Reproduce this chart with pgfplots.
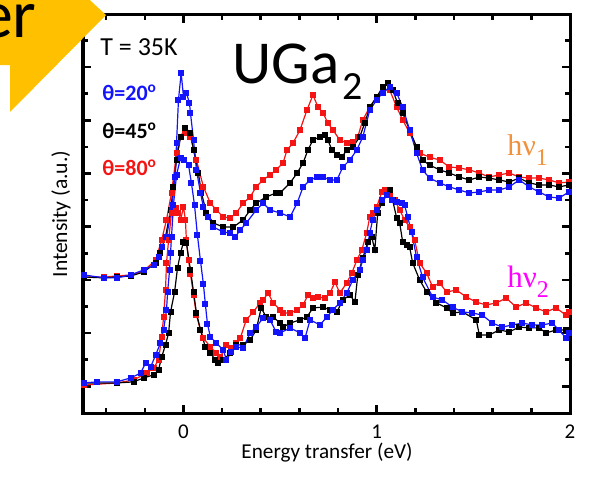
\documentclass[border=0pt]{standalone}
\usepackage{fontspec}
\setmainfont{Carlito}
\newfontfamily\timesf{Liberation Serif}
\usepackage{pgfplots}
\pgfplotsset{compat=1.18}
\definecolor{cblue}{RGB}{20,20,250}
\definecolor{cred}{RGB}{245,20,20}
\definecolor{corange}{RGB}{240,145,60}
\definecolor{cmag}{RGB}{255,0,255}
\definecolor{cgold}{RGB}{255,192,0}
\begin{document}
\begin{tikzpicture}
\useasboundingbox (0,0) rectangle (294.5pt,-249pt);
\begin{axis}[
  at={(41.5pt,-206.5pt)}, anchor=south west,
  scale only axis, width=243.5pt, height=199pt,
  xmin=-0.52, xmax=2, ymin=0, ymax=14.96,
  xtick={0,1,2},
  minor xtick={-0.4,-0.2,0.2,0.4,0.6,0.8,1.2,1.4,1.6,1.8},
  ytick={1,3,...,13}, minor ytick={2,4,...,14}, yticklabels={},
  tick align=inside, major tick length=4pt, minor tick length=2.5pt,
  axis line style={line width=1.5pt},
  tick style={line width=1.3pt, black},
  /pgf/number format/assume math mode=true,
  xticklabel style={font=\fontsize{10.5}{12}\selectfont, yshift=-2.5pt},
  every axis plot/.append style={mark=square*, mark size=1.2pt, line width=0.6pt},
]
% upper set (h nu 1)
\addplot[cred, mark options={fill=cred}] coordinates {(-0.515,5.11)(-0.412,5.11)(-0.345,5.15)(-0.273,5.19)(-0.206,5.34)(-0.144,5.75)(-0.113,6.50)(-0.088,7.26)(-0.062,8.27)(-0.036,9.77)(-0.015,10.38)(0.010,10.53)(0.036,10.38)(0.067,9.51)(0.103,8.50)(0.139,7.89)(0.170,7.63)(0.206,7.37)(0.242,7.33)(0.273,7.52)(0.309,7.89)(0.345,8.12)(0.376,8.50)(0.412,8.76)(0.448,8.95)(0.479,9.14)(0.515,9.40)(0.536,9.89)(0.567,10.15)(0.603,10.64)(0.639,11.39)(0.670,11.95)(0.696,11.50)(0.722,11.28)(0.747,10.90)(0.773,10.64)(0.809,10.26)(0.845,10.15)(0.876,10.19)(0.902,10.38)(0.928,11.02)(0.964,11.50)(1.000,11.88)(1.031,12.14)(1.067,12.14)(1.103,11.50)(1.134,11.02)(1.170,10.53)(1.222,9.77)(1.273,9.62)(1.325,9.51)(1.376,9.25)(1.428,9.21)(1.479,9.14)(1.531,9.02)(1.582,8.87)(1.634,8.95)(1.686,9.02)(1.737,8.87)(1.789,8.83)(1.840,8.83)(1.892,8.76)(1.943,8.65)(1.995,8.68)};
\addplot[black, mark options={fill=black}] coordinates {(-0.515,5.11)(-0.412,5.08)(-0.345,5.11)(-0.273,5.15)(-0.206,5.30)(-0.144,5.64)(-0.119,6.02)(-0.093,6.62)(-0.067,7.63)(-0.052,8.50)(-0.036,9.51)(-0.015,10.38)(0.010,10.71)(0.036,10.53)(0.052,9.89)(0.077,9.02)(0.093,8.27)(0.119,7.52)(0.155,7.14)(0.206,6.99)(0.258,6.99)(0.309,7.26)(0.345,7.63)(0.376,7.89)(0.428,8.12)(0.479,8.27)(0.500,8.27)(0.552,8.65)(0.588,9.02)(0.619,9.40)(0.644,9.89)(0.670,10.26)(0.706,10.38)(0.732,10.45)(0.747,10.26)(0.768,9.89)(0.794,9.70)(0.820,9.62)(0.845,9.89)(0.876,10.00)(0.912,10.38)(0.938,10.90)(0.964,11.50)(1.000,11.88)(1.031,12.26)(1.057,12.41)(1.082,12.14)(1.108,11.65)(1.134,11.28)(1.170,10.64)(1.206,10.00)(1.237,9.51)(1.273,9.32)(1.325,9.14)(1.376,9.02)(1.428,8.87)(1.479,8.76)(1.531,8.87)(1.582,8.83)(1.634,8.76)(1.686,8.68)(1.737,8.83)(1.789,8.65)(1.840,8.57)(1.892,8.57)(1.943,8.50)(1.995,8.57)};
\addplot[cblue, mark options={fill=cblue}] coordinates {(-0.515,5.19)(-0.412,5.08)(-0.345,5.08)(-0.273,5.19)(-0.206,5.38)(-0.155,5.56)(-0.129,5.86)(-0.113,6.24)(-0.088,6.62)(-0.062,7.63)(-0.043,8.87)(-0.036,10.15)(-0.026,11.77)(-0.012,12.78)(0.000,11.88)(0.015,12.03)(0.031,11.65)(0.036,11.28)(0.052,10.26)(0.067,9.14)(0.088,8.27)(0.103,7.74)(0.129,7.37)(0.155,6.99)(0.206,6.80)(0.242,6.77)(0.268,6.62)(0.294,6.88)(0.325,7.14)(0.376,7.63)(0.412,7.89)(0.448,7.63)(0.500,7.52)(0.552,7.37)(0.588,7.89)(0.619,8.50)(0.655,8.76)(0.691,8.87)(0.722,8.87)(0.758,8.76)(0.794,8.76)(0.825,9.25)(0.861,9.51)(0.897,9.89)(0.928,10.38)(0.964,11.39)(1.000,11.77)(1.031,12.03)(1.067,12.26)(1.103,12.03)(1.134,11.50)(1.170,10.64)(1.206,9.77)(1.237,9.14)(1.273,8.83)(1.325,8.65)(1.376,8.50)(1.428,8.38)(1.479,8.27)(1.531,8.31)(1.582,8.38)(1.634,8.38)(1.686,8.50)(1.737,8.76)(1.789,8.50)(1.840,8.31)(1.892,8.12)(1.943,8.08)(1.995,8.31)};
% lower set (h nu 2)
\addplot[cred, mark options={fill=cred}] coordinates {(-0.515,1.05)(-0.345,1.13)(-0.258,1.24)(-0.191,1.50)(-0.155,1.69)(-0.129,1.99)(-0.113,2.86)(-0.103,3.61)(-0.093,4.62)(-0.088,5.64)(-0.077,6.50)(-0.062,7.52)(-0.041,7.71)(-0.026,7.52)(-0.015,7.26)(0.000,7.74)(0.010,7.26)(0.015,6.50)(0.026,5.75)(0.036,5.23)(0.052,4.44)(0.067,3.68)(0.088,3.12)(0.103,2.82)(0.139,2.48)(0.170,2.26)(0.191,2.11)(0.222,2.56)(0.247,2.44)(0.273,2.63)(0.294,2.82)(0.325,3.50)(0.361,3.80)(0.397,4.14)(0.412,4.25)(0.438,4.51)(0.464,4.14)(0.500,3.87)(0.515,3.76)(0.552,3.76)(0.588,3.87)(0.619,4.06)(0.644,4.44)(0.670,4.32)(0.696,4.36)(0.732,4.32)(0.758,4.51)(0.784,4.92)(0.809,4.51)(0.845,4.89)(0.871,5.26)(0.897,5.75)(0.923,6.13)(0.948,6.77)(0.964,7.37)(0.979,7.52)(1.000,7.74)(1.026,8.31)(1.041,8.38)(1.067,8.20)(1.093,8.01)(1.119,7.63)(1.144,7.26)(1.170,6.99)(1.196,6.50)(1.222,5.64)(1.258,5.26)(1.289,4.74)(1.325,4.89)(1.361,4.55)(1.412,4.62)(1.464,4.36)(1.515,4.17)(1.567,4.06)(1.619,4.14)(1.670,4.32)(1.722,3.98)(1.773,4.14)(1.825,3.95)(1.876,3.80)(1.928,3.95)(1.979,3.68)(1.995,3.80)};
\addplot[black, mark options={fill=black}] coordinates {(-0.515,1.13)(-0.345,1.13)(-0.258,1.17)(-0.206,1.32)(-0.155,1.43)(-0.129,1.62)(-0.113,2.11)(-0.093,2.56)(-0.077,3.01)(-0.067,3.80)(-0.046,4.55)(-0.031,5.45)(-0.015,6.02)(0.000,6.43)(0.015,6.39)(0.036,5.38)(0.052,4.55)(0.067,3.76)(0.088,3.12)(0.113,2.48)(0.139,2.26)(0.165,1.99)(0.180,1.88)(0.206,1.99)(0.242,2.26)(0.273,2.56)(0.309,2.56)(0.345,2.74)(0.376,3.12)(0.402,3.95)(0.428,3.61)(0.464,3.61)(0.500,3.38)(0.515,3.23)(0.552,3.38)(0.603,3.50)(0.639,3.61)(0.670,3.95)(0.722,3.98)(0.758,3.87)(0.794,3.80)(0.825,4.25)(0.861,4.44)(0.887,4.17)(0.902,5.19)(0.928,5.83)(0.954,6.43)(0.974,6.62)(0.990,6.13)(1.005,7.52)(1.026,7.89)(1.067,8.38)(1.082,8.01)(1.103,7.33)(1.119,7.14)(1.134,6.43)(1.155,6.32)(1.170,6.24)(1.186,5.64)(1.222,5.00)(1.258,4.55)(1.309,4.14)(1.361,3.95)(1.392,3.76)(1.443,3.80)(1.515,3.50)(1.531,2.93)(1.582,2.93)(1.634,3.12)(1.686,3.05)(1.737,3.23)(1.789,3.20)(1.840,3.20)(1.876,3.01)(1.928,3.12)(1.979,3.12)};
\addplot[cblue, mark options={fill=cblue}] coordinates {(-0.515,1.13)(-0.448,1.17)(-0.345,1.17)(-0.273,1.32)(-0.222,1.50)(-0.196,1.88)(-0.170,1.73)(-0.144,2.18)(-0.119,2.63)(-0.103,3.12)(-0.088,3.87)(-0.082,4.55)(-0.072,5.38)(-0.067,6.02)(-0.062,6.62)(-0.052,7.82)(-0.036,8.95)(-0.015,9.59)(0.005,9.51)(0.026,9.32)(0.041,8.65)(0.057,7.82)(0.072,6.69)(0.088,5.71)(0.103,4.85)(0.113,4.10)(0.124,3.35)(0.139,2.86)(0.170,2.63)(0.206,2.37)(0.222,1.99)(0.247,2.29)(0.273,2.48)(0.309,2.44)(0.345,3.01)(0.376,3.23)(0.412,3.57)(0.448,3.50)(0.479,3.05)(0.500,3.01)(0.552,3.20)(0.603,3.01)(0.629,2.82)(0.655,3.50)(0.706,3.31)(0.742,3.61)(0.773,3.87)(0.809,4.14)(0.845,4.51)(0.876,5.00)(0.912,5.38)(0.928,5.75)(0.948,6.13)(0.964,6.77)(0.979,7.26)(1.000,7.63)(1.026,8.01)(1.052,8.20)(1.077,8.01)(1.103,7.93)(1.129,7.89)(1.144,7.82)(1.160,7.37)(1.180,6.80)(1.206,5.86)(1.237,5.11)(1.289,4.36)(1.340,4.25)(1.392,3.98)(1.443,3.80)(1.495,3.76)(1.546,3.68)(1.598,3.38)(1.649,3.23)(1.701,3.31)(1.753,3.38)(1.804,3.31)(1.856,3.31)(1.907,3.38)(1.943,3.12)(1.979,2.82)(1.995,3.01)};
\end{axis}
\begin{scope}[x=0.5pt,y=-0.5pt]
\fill[cgold] (-10,-10) -- (79,-10) -- (106,15) -- (10,112) -- (10,65) -- (-10,65) -- cycle;
\node[anchor=base east, inner sep=0, font=\fontsize{34}{34}\selectfont] at (37,37) {er};
\node[anchor=base west, inner sep=0, font=\fontsize{13}{14}\selectfont] at (100,55) {T = 35K};
\node[anchor=base west, inner sep=0, font=\bfseries\fontsize{11}{13}\selectfont, text=cblue] at (102,100) {θ=20\textsuperscript{o}};
\node[anchor=base west, inner sep=0, font=\bfseries\fontsize{11}{13}\selectfont, text=black] at (102,138) {θ=45\textsuperscript{o}};
\node[anchor=base west, inner sep=0, font=\bfseries\fontsize{11}{13}\selectfont, text=cred] at (102,175) {θ=80\textsuperscript{o}};
\node[anchor=base west, inner sep=0, font=\fontsize{30.5}{32}\selectfont] at (232,83) {UGa\kern1.5pt\raisebox{-8.5pt}{\fontsize{20}{20}\selectfont 2}};
\node[anchor=base west, inner sep=0, font=\timesf\fontsize{15}{15}\selectfont, text=corange] at (507,155) {hν\raisebox{-5pt}{\fontsize{12}{12}\selectfont 1}};
\node[anchor=base west, inner sep=0, font=\timesf\fontsize{15.5}{15}\selectfont, text=cmag] at (507,287) {hν\raisebox{-5pt}{\fontsize{12}{12}\selectfont 2}};
\node[rotate=90, anchor=center, inner sep=0, font=\fontsize{10.8}{12}\selectfont] at (61,214) {Intensity (a.u.)};
\node[anchor=base, inner sep=0, font=\fontsize{10.6}{12}\selectfont] at (327,458) {Energy transfer (eV)};
\end{scope}
\end{tikzpicture}
\end{document}
